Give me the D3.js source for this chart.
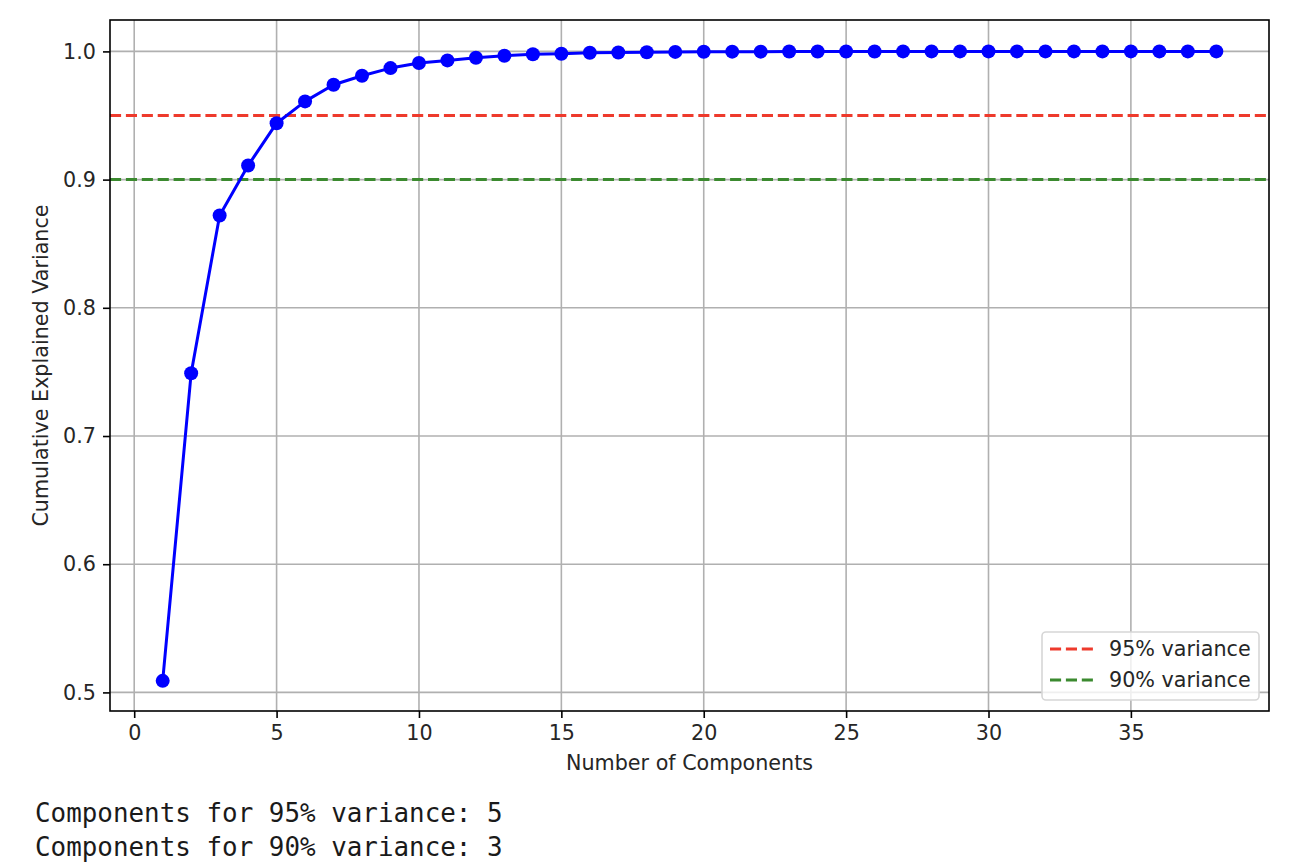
<!DOCTYPE html>
<html>
<head>
<meta charset="utf-8">
<script src="https://cdn.jsdelivr.net/npm/d3@7"></script>
<style>
body { margin: 0; background: #fff; }
text { font-family: "DejaVu Sans", sans-serif; fill: #262626; }
.mono { font-family: "DejaVu Sans Mono", monospace; fill: #1a1a1a; }
</style>
</head>
<body>
<svg id="svg"></svg>
<script>
var width = 1290, height = 866;

// number of components on the x axis
var components = d3.range(1, 39);
// cumulative explained variance
var cumVariance = [0.509, 0.749, 0.872, 0.911, 0.944, 0.961, 0.974, 0.981, 0.987, 0.991,
	0.993, 0.995, 0.9966, 0.9978, 0.9982, 0.9989, 0.9992, 0.9994, 0.9996, 0.9997,
	0.9998, 0.9998, 0.9999, 0.9999, 0.9999, 0.9999, 1.0, 1.0, 1.0, 1.0,
	1.0, 1.0, 1.0, 1.0, 1.0, 1.0, 1.0, 1.0];
var thresholds = [0.95, 0.90];
var thresholdLabels = ["95% variance", "90% variance"];
var thresholdColors = ["#ee3a2c", "#3b8a2f"];
var xTicks = [0, 5, 10, 15, 20, 25, 30, 35];
var yTicks = [0.5, 0.6, 0.7, 0.8, 0.9, 1.0];
var outputLines = ["Components for 95% variance: 5", "Components for 90% variance: 3"];

var svg = d3.select("#svg")
	.attr("width", width)
	.attr("height", height);

var plotLeft = 110, plotRight = 1269, plotTop = 20, plotBottom = 711;
var fontSize = "20.7px";

var x = d3.scaleLinear()
	.domain([-0.85, 39.85])
	.range([plotLeft, plotRight]);

var y = d3.scaleLinear()
	.domain([0.4855, 1.0245])
	.range([plotBottom, plotTop]);

// grid
svg.append("g")
	.selectAll("line")
	.data(xTicks)
	.enter()
	.append("line")
	.attr("x1", function(d) { return x(d); })
	.attr("x2", function(d) { return x(d); })
	.attr("y1", plotTop)
	.attr("y2", plotBottom)
	.attr("stroke", "#b0b0b0")
	.attr("stroke-width", 1.6);

svg.append("g")
	.selectAll("line")
	.data(yTicks)
	.enter()
	.append("line")
	.attr("x1", plotLeft)
	.attr("x2", plotRight)
	.attr("y1", function(d) { return y(d); })
	.attr("y2", function(d) { return y(d); })
	.attr("stroke", "#b0b0b0")
	.attr("stroke-width", 1.6);

// threshold lines
svg.append("g")
	.selectAll("line")
	.data(thresholds)
	.enter()
	.append("line")
	.attr("x1", plotLeft)
	.attr("x2", plotRight)
	.attr("y1", function(d) { return y(d); })
	.attr("y2", function(d) { return y(d); })
	.attr("stroke", function(d, i) { return thresholdColors[i]; })
	.attr("stroke-width", 3)
	.attr("stroke-dasharray", "11.1,4.8");

// curve
var lineGenerator = d3.line()
	.x(function(d, i) { return x(components[i]); })
	.y(function(d) { return y(d); });

svg.append("path")
	.attr("fill", "none")
	.attr("stroke", "#0000ff")
	.attr("stroke-width", 3)
	.attr("stroke-linejoin", "round")
	.attr("d", lineGenerator(cumVariance));

svg.append("g")
	.selectAll("circle")
	.data(cumVariance)
	.enter()
	.append("circle")
	.attr("cx", function(d, i) { return x(components[i]); })
	.attr("cy", function(d) { return y(d); })
	.attr("r", 7)
	.attr("fill", "#0000ff");

// axes
var xAxis = d3.axisBottom(x)
	.tickValues(xTicks)
	.tickSize(7)
	.tickPadding(7)
	.tickFormat(d3.format("d"));
var yAxis = d3.axisLeft(y)
	.tickValues(yTicks)
	.tickSize(7)
	.tickPadding(7)
	.tickFormat(d3.format(".1f"));

var gx = svg.append("g")
	.attr("transform", "translate(0," + plotBottom + ")")
	.call(xAxis);
var gy = svg.append("g")
	.attr("transform", "translate(" + plotLeft + ",0)")
	.call(yAxis);

[gx, gy].forEach(function(g) {
	g.select(".domain").remove();
	g.selectAll(".tick line").attr("stroke", "#000").attr("stroke-width", 1.6);
	g.selectAll(".tick text")
		.attr("font-family", "DejaVu Sans")
		.attr("font-size", fontSize)
		.attr("fill", "#262626");
});

// frame
svg.append("rect")
	.attr("x", plotLeft)
	.attr("y", plotTop)
	.attr("width", plotRight - plotLeft)
	.attr("height", plotBottom - plotTop)
	.attr("fill", "none")
	.attr("stroke", "#000")
	.attr("stroke-width", 1.6);

// axis labels
svg.append("text")
	.attr("x", (plotLeft + plotRight) / 2)
	.attr("y", 770)
	.attr("text-anchor", "middle")
	.attr("font-size", fontSize)
	.text("Number of Components");

svg.append("text")
	.attr("transform", "translate(48," + ((plotTop + plotBottom) / 2) + ") rotate(-90)")
	.attr("text-anchor", "middle")
	.attr("font-size", fontSize)
	.text("Cumulative Explained Variance");

// legend
var legend = svg.append("g")
	.attr("class", "legend");

legend.append("rect")
	.attr("x", 1042)
	.attr("y", 632)
	.attr("width", 217)
	.attr("height", 68)
	.attr("rx", 4)
	.attr("fill", "#fff")
	.attr("fill-opacity", 0.8)
	.attr("stroke", "#d6d6d6")
	.attr("stroke-width", 1.6);

legend.selectAll("line")
	.data(thresholdLabels)
	.enter()
	.append("line")
	.attr("x1", 1050)
	.attr("x2", 1093)
	.attr("y1", function(d, i) { return 649 + i * 31; })
	.attr("y2", function(d, i) { return 649 + i * 31; })
	.attr("stroke", function(d, i) { return thresholdColors[i]; })
	.attr("stroke-width", 3)
	.attr("stroke-dasharray", "11.1,4.8");

legend.selectAll("text")
	.data(thresholdLabels)
	.enter()
	.append("text")
	.attr("x", 1109)
	.attr("y", function(d, i) { return 656 + i * 31; })
	.attr("font-size", fontSize)
	.text(function(d) { return d; });

// printed output below the chart
svg.selectAll(".mono")
	.data(outputLines)
	.enter()
	.append("text")
	.attr("class", "mono")
	.attr("x", 35)
	.attr("y", function(d, i) { return 822 + i * 33.5; })
	.attr("font-size", "25.9px")
	.text(function(d) { return d; });
</script>
</body>
</html>
